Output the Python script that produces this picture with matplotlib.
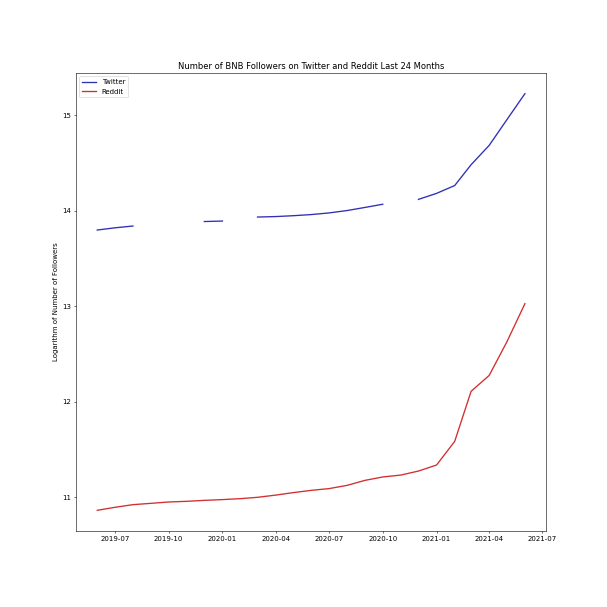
import numpy as np
import pandas as pd
import matplotlib
matplotlib.use('Agg')
import matplotlib.pyplot as plt

# monthly data points, first day of each month
months = pd.date_range('2019-06-01', '2021-06-01', freq='MS')

# log of follower counts (NaN = missing month)
twitter_log = [13.796, 13.819, 13.838, np.nan, np.nan, np.nan, 13.885, 13.890,
               np.nan, 13.932, 13.937, 13.946, 13.958, 13.975, 14.000, 14.033,
               14.066, np.nan, 14.117, 14.180, 14.262, 14.480, 14.683, 14.950,
               15.224]
reddit_log = [10.861, 10.892, 10.920, 10.934, 10.948, 10.955, 10.965, 10.973,
              10.983, 10.997, 11.020, 11.046, 11.070, 11.088, 11.122, 11.175,
              11.210, 11.230, 11.272, 11.335, 11.583, 12.107, 12.274, 12.623,
              13.025]

fig = plt.figure(figsize=(12, 12), dpi=607 / 12)
ax = plt.subplot()
fig.subplots_adjust(left=0.125, right=0.9, top=0.88, bottom=0.125)

ax.plot(months, twitter_log, color='#3030b8', lw=1.9, label='Twitter')
ax.plot(months, reddit_log, color='#d03030', lw=1.9, label='Reddit')

ax.set_title('Number of BNB Followers on Twitter and Reddit Last 24 Months')
ax.set_ylabel('Logarithm of Number of Followers')
ax.legend(loc='upper left')

plt.savefig('out.png')
